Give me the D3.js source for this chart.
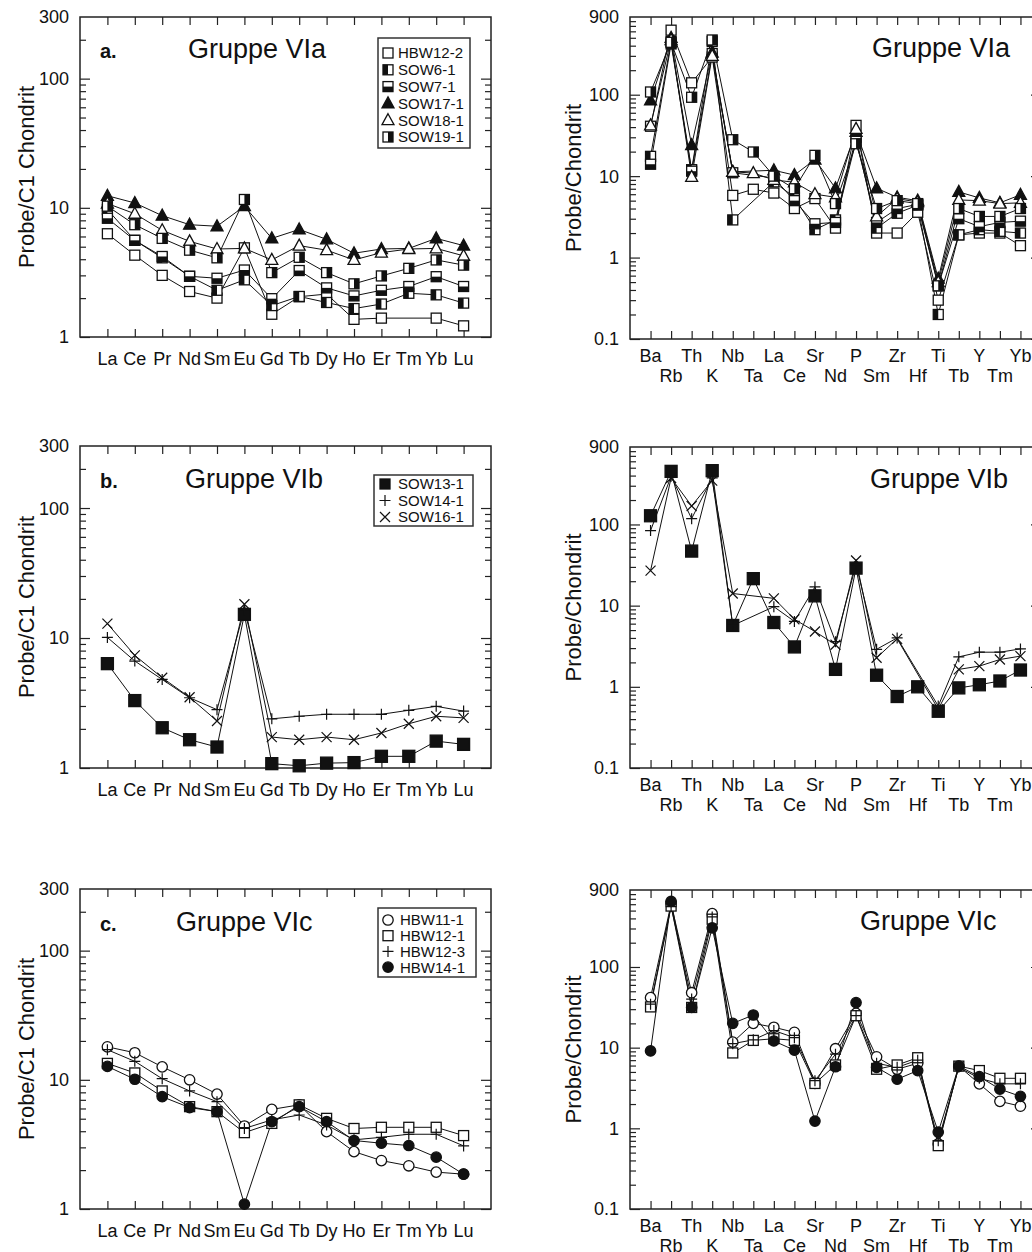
<!DOCTYPE html>
<html>
<head>
<meta charset="utf-8">
<script src="https://cdn.jsdelivr.net/npm/d3@7"></script>
<style>
  body { margin: 0; background: #fff; }
  text { font-family: Arial, "Liberation Sans", sans-serif; fill: #111; }
</style>
</head>
<body>
<svg width="1032" height="1252"></svg>
<script>
// element order on the two kinds of x axis
const reeCats = ['La', 'Ce', 'Pr', 'Nd', 'Sm', 'Eu', 'Gd', 'Tb', 'Dy', 'Ho', 'Er', 'Tm', 'Yb', 'Lu']
const spiderCats = ['Ba', 'Rb', 'Th', 'K', 'Nb', 'Ta', 'La', 'Ce', 'Sr', 'Nd', 'P', 'Sm', 'Zr', 'Hf', 'Ti', 'Tb', 'Y', 'Tm', 'Yb']

const reeTicks = [1, 10, 100, 300]
const spiderTicks = [0.1, 1, 10, 100, 900]

// Gruppe VIa - REE
const reeHBW12_2 = [6.3, 4.3, 3.0, 2.25, 2.0, 4.9, 1.5, 2.05, 2.15, 1.37, 1.4, null, 1.4, 1.22]
const reeSOW6_1 = [9.7, 5.6, 4.1, 2.95, 2.3, 2.77, 1.75, 2.06, 1.85, 1.66, 1.8, 2.18, 2.12, 1.83]
const reeSOW7_1 = [8.3, 5.6, 4.2, 2.95, 2.85, 3.3, 1.98, 3.27, 2.4, 2.08, 2.3, 2.46, 2.93, 2.46]
const reeSOW17_1 = [12.4, 10.9, 8.7, 7.4, 7.2, 10.3, 5.8, 6.8, 5.7, 4.45, 4.8, 4.85, 5.8, 5.1]
const reeSOW18_1 = [10.8, 9.0, 6.7, 5.5, 4.8, 4.85, 3.95, 5.1, 4.7, 3.95, 4.5, 4.8, 4.85, 4.25]
const reeSOW19_1 = [10.3, 7.4, 5.8, 4.7, 4.1, 11.6, 3.15, 4.14, 3.15, 2.58, 2.97, 3.4, 3.95, 3.6]

// Gruppe VIa - spider
const spHBW12_2 = [41, 620, 140, 290, 5.8, 6.9, 6.2, 4.0, 5.3, 2.3, 42, 2.0, 2.0, 3.6, 0.3, 1.9, 2.0, 2.0, 1.4]
const spSOW6_1 = [17.5, 450, 12, 450, 2.9, null, 8.5, 5.5, 2.2, 2.9, 30, 2.3, 3.5, 4.4, 0.2, 1.9, 2.2, 2.1, 2.0]
const spSOW7_1 = [14, 420, 11.5, 320, 11, null, 9.5, 5.0, 2.6, 2.7, 27, 2.7, 4.0, 4.5, 0.45, 3.0, 2.4, 2.7, 2.8]
const spSOW17_1 = [85, 500, 24, 330, 11.3, null, 11.8, 10.3, 16, 7.1, 35, 7.1, 5.5, 5.0, 0.55, 6.4, 5.4, 4.7, 5.9]
const spSOW18_1 = [42, 470, 9.8, 300, 11.3, 10.9, 9.0, 8.4, 6.0, 5.5, 38, 3.2, 5.3, 4.8, 0.5, 5.1, 5.0, 4.6, 4.7]
const spSOW19_1 = [108, 440, 93, 470, 28, 19.8, 10, 7.0, 18, 4.6, 25, 4.0, 5.0, 4.6, 0.45, 4.0, 3.2, 3.2, 4.0]

// Gruppe VIb - REE
const reeSOW13_1 = [6.35, 3.3, 2.04, 1.65, 1.45, 15.2, 1.08, 1.04, 1.09, 1.1, 1.23, 1.23, 1.61, 1.52]
const reeSOW14_1 = [10.1, 6.65, 4.8, 3.47, 2.81, 16.5, 2.39, 2.5, 2.59, 2.59, 2.59, 2.78, 2.98, 2.74]
const reeSOW16_1 = [12.9, 7.35, 4.95, 3.5, 2.3, 18.2, 1.73, 1.65, 1.73, 1.65, 1.86, 2.19, 2.5, 2.43]

// Gruppe VIb - spider
const spSOW13_1 = [128, 451, 47, 460, 5.7, 21.5, 6.2, 3.1, 13.2, 1.64, 29, 1.39, 0.76, 1.0, 0.5, 0.97, 1.06, 1.18, 1.61]
const spSOW14_1 = [84, 392, 118, 374, 5.7, null, 9.7, 6.4, 17, 3.6, 32, 2.9, 4.0, null, 0.58, 2.34, 2.67, 2.67, 2.93]
const spSOW16_1 = [27, 374, 169, 347, 14.1, null, 12.3, 6.8, 4.8, 3.3, 36, 2.28, 3.9, null, 0.53, 1.64, 1.8, 2.17, 2.39]

// Gruppe VIc - REE
const reeHBW11_1 = [18, 16.2, 12.6, 10.0, 7.75, 4.39, 5.9, 6.4, 3.97, 2.78, 2.37, 2.16, 1.93, 1.86]
const reeHBW12_1 = [13.4, 11.3, 8.2, 6.2, 5.67, 3.9, 4.6, 6.4, 5.03, 4.2, 4.29, 4.29, 4.29, 3.7]
const reeHBW12_3 = [17.1, 13.9, 10.2, 8.2, 6.77, 4.2, 4.9, 5.34, 4.47, 3.43, 3.59, 3.79, 3.79, 3.08]
const reeHBW14_1 = [12.7, 10.1, 7.4, 6.1, 5.67, 1.09, 4.74, 6.2, 4.74, 3.39, 3.23, 3.1, 2.52, 1.86]

// Gruppe VIc - spider
const spHBW11_1 = [41.7, 608, 48, 458, 11.7, 20, 17.9, 15.5, 3.6, 9.7, 26.6, 7.7, 5.4, 6.4, 0.64, 5.9, 3.56, 2.16, 1.88]
const spHBW12_1 = [32, 569, 31.5, 391, 8.6, 12.3, 12.9, 12.3, 3.6, 6.1, 24.9, 5.4, 6.1, 7.5, 0.61, 5.9, 5.2, 4.17, 4.17]
const spHBW12_3 = [34.6, 560, 40, 417, 11.2, 12.5, 16.3, 13.3, 3.9, 8.3, 24.9, 6.4, 5.7, 7.0, 0.7, 5.7, 4.17, 3.56, 3.56]
const spHBW14_1 = [9.1, 649, 31.5, 306, 20, 25.4, 12.1, 9.3, 1.23, 5.8, 36.2, 5.7, 4.06, 5.2, 0.9, 5.9, 4.37, 3.06, 2.49]

const svg = d3.select('svg')
svg.append('rect').attr('width', 1032).attr('height', 1252).attr('fill', '#fff')

const panels = [
  { kind: 'ree', x0: 80, x1: 491, y0: 17, y1: 337, letter: 'a.', title: 'Gruppe VIa', tx: 188, ty: 58,
    legend: { x: 378, y: 38, w: 92, h: 110, rowY: 53, row: 16.8, mx: 388, tx: 398 },
    series: [
      ['HBW12-2', reeHBW12_2, 'sqOpen'], ['SOW6-1', reeSOW6_1, 'sqLeft'], ['SOW7-1', reeSOW7_1, 'sqBottom'],
      ['SOW17-1', reeSOW17_1, 'triFilled'], ['SOW18-1', reeSOW18_1, 'triOpen'], ['SOW19-1', reeSOW19_1, 'sqRight']] },
  { kind: 'spider', x0: 630, x1: 1041, y0: 17, y1: 339, title: 'Gruppe VIa', tx: 872, ty: 57,
    series: [
      ['HBW12-2', spHBW12_2, 'sqOpen'], ['SOW6-1', spSOW6_1, 'sqLeft'], ['SOW7-1', spSOW7_1, 'sqBottom'],
      ['SOW17-1', spSOW17_1, 'triFilled'], ['SOW18-1', spSOW18_1, 'triOpen'], ['SOW19-1', spSOW19_1, 'sqRight']] },
  { kind: 'ree', x0: 80, x1: 491, y0: 446, y1: 768, letter: 'b.', title: 'Gruppe VIb', tx: 185, ty: 488,
    legend: { x: 374, y: 475, w: 99, h: 51, rowY: 484, row: 16.5, mx: 385, tx: 398 },
    series: [
      ['SOW13-1', reeSOW13_1, 'sqFilled'], ['SOW14-1', reeSOW14_1, 'plus'], ['SOW16-1', reeSOW16_1, 'cross']] },
  { kind: 'spider', x0: 630, x1: 1041, y0: 447, y1: 768, title: 'Gruppe VIb', tx: 870, ty: 488,
    series: [
      ['SOW13-1', spSOW13_1, 'sqFilled'], ['SOW14-1', spSOW14_1, 'plus'], ['SOW16-1', spSOW16_1, 'cross']] },
  { kind: 'ree', x0: 80, x1: 491, y0: 889, y1: 1209, letter: 'c.', title: 'Gruppe VIc', tx: 176, ty: 931,
    legend: { x: 378, y: 908, w: 98, h: 69, rowY: 920, row: 15.7, mx: 388, tx: 400 },
    series: [
      ['HBW11-1', reeHBW11_1, 'circOpen'], ['HBW12-1', reeHBW12_1, 'sqOpen'],
      ['HBW12-3', reeHBW12_3, 'plus'], ['HBW14-1', reeHBW14_1, 'circFilled']] },
  { kind: 'spider', x0: 630, x1: 1041, y0: 890, y1: 1209, title: 'Gruppe VIc', tx: 860, ty: 930,
    series: [
      ['HBW11-1', spHBW11_1, 'circOpen'], ['HBW12-1', spHBW12_1, 'sqOpen'],
      ['HBW12-3', spHBW12_3, 'plus'], ['HBW14-1', spHBW14_1, 'circFilled']] }
]

function minorTicks(lo, hi) {
  const out = []
  for (let d = lo; d < hi; d *= 10) {
    for (let k = 2; k <= 9; k++) {
      const v = +(k * d).toPrecision(3)
      if (v < hi) out.push(v)
    }
  }
  return out
}

function drawMarker(g, type, cx, cy, big) {
  const s = big ? 6 : 5
  const sw = 1.3
  if (type.startsWith('sq')) {
    g.append('rect').attr('x', cx - s).attr('y', cy - s).attr('width', 2 * s).attr('height', 2 * s)
      .attr('fill', type === 'sqFilled' ? '#111' : '#fff').attr('stroke', '#111').attr('stroke-width', sw)
    let half = null
    if (type === 'sqLeft') half = [cx - s, cy - s, s, 2 * s]
    if (type === 'sqRight') half = [cx, cy - s, s, 2 * s]
    if (type === 'sqBottom') half = [cx - s, cy, 2 * s, s]
    if (half) {
      g.append('rect').attr('x', half[0]).attr('y', half[1]).attr('width', half[2]).attr('height', half[3])
        .attr('fill', '#111')
    }
  } else if (type.startsWith('tri')) {
    const p = `M${cx},${cy - 6.5}L${cx + 6},${cy + 4.5}L${cx - 6},${cy + 4.5}Z`
    g.append('path').attr('d', p).attr('fill', type === 'triFilled' ? '#111' : '#fff')
      .attr('stroke', '#111').attr('stroke-width', sw)
  } else if (type.startsWith('circ')) {
    g.append('circle').attr('cx', cx).attr('cy', cy).attr('r', 5.2)
      .attr('fill', type === 'circFilled' ? '#111' : '#fff').attr('stroke', '#111').attr('stroke-width', sw)
  } else if (type === 'plus') {
    g.append('path').attr('d', `M${cx - 5.5},${cy}H${cx + 5.5}M${cx},${cy - 5.5}V${cy + 5.5}`)
      .attr('stroke', '#111').attr('stroke-width', 1.2).attr('fill', 'none')
  } else if (type === 'cross') {
    g.append('path').attr('d', `M${cx - 5},${cy - 5}L${cx + 5},${cy + 5}M${cx - 5},${cy + 5}L${cx + 5},${cy - 5}`)
      .attr('stroke', '#111').attr('stroke-width', 1.2).attr('fill', 'none')
  }
}

panels.forEach(p => {
  const cats = p.kind === 'ree' ? reeCats : spiderCats
  const domain = p.kind === 'ree' ? [1, 300] : [0.1, 900]
  const x = d3.scalePoint().domain(cats).range([p.x0, p.x1]).padding(1)
  const y = d3.scaleLog().domain(domain).range([p.y1, p.y0])
  const g = svg.append('g')

  const majors = p.kind === 'ree' ? [1, 10, 100] : [0.1, 1, 10, 100]
  const minors = minorTicks(domain[0], domain[1])

  const axes = [
    [d3.axisLeft(y).tickValues(majors).tickSize(-10), `translate(${p.x0},0)`],
    [d3.axisLeft(y).tickValues(minors).tickSize(-6), `translate(${p.x0},0)`],
    [d3.axisRight(y).tickValues(majors).tickSize(-10), `translate(${p.x1},0)`],
    [d3.axisRight(y).tickValues(minors).tickSize(-6), `translate(${p.x1},0)`],
    [d3.axisTop(x).tickSize(-8), `translate(0,${p.y0})`],
    [d3.axisBottom(x).tickSize(-8), `translate(0,${p.y1})`]
  ]
  axes.forEach(([axis, tr]) => {
    const a = g.append('g').attr('transform', tr).call(axis.tickFormat(''))
    a.select('.domain').remove()
    a.selectAll('line').attr('stroke', '#222').attr('stroke-width', 1.2)
  })

  g.append('rect').attr('x', p.x0).attr('y', p.y0).attr('width', p.x1 - p.x0).attr('height', p.y1 - p.y0)
    .attr('fill', 'none').attr('stroke', '#222').attr('stroke-width', 1.5)

  // y tick labels
  const labels = p.kind === 'ree' ? reeTicks : spiderTicks
  labels.forEach(v => {
    g.append('text').attr('x', p.x0 - 11).attr('y', y(v)).attr('dy', '0.36em')
      .attr('text-anchor', 'end').attr('font-size', 18).text(v)
  })

  // x tick labels
  cats.forEach((c, i) => {
    let ly = p.y1 + 28
    if (p.kind === 'spider') ly = i % 2 === 0 ? p.y1 + 23 : p.y1 + 43
    g.append('text').attr('x', x(c)).attr('y', ly).attr('text-anchor', 'middle')
      .attr('font-size', 18).text(c)
  })

  // y axis title
  const ymid = (p.y0 + p.y1) / 2
  const lx = p.kind === 'ree' ? 34 : 581
  g.append('text').attr('transform', `translate(${lx},${ymid}) rotate(-90)`)
    .attr('text-anchor', 'middle').attr('font-size', 22)
    .text(p.kind === 'ree' ? 'Probe/C1 Chondrit' : 'Probe/Chondrit')

  // panel titles
  g.append('text').attr('x', p.tx).attr('y', p.ty).attr('font-size', 27).text(p.title)
  if (p.letter) {
    g.append('text').attr('x', 100).attr('y', p.ty).attr('font-size', 20)
      .attr('font-weight', 'bold').text(p.letter)
  }

  // lines
  const line = d3.line().x(d => x(d.cat)).y(d => y(d.v))
  p.series.forEach(([name, vals]) => {
    const pts = vals.map((v, i) => ({ cat: cats[i], v })).filter(d => d.v != null)
    g.append('path').attr('d', line(pts)).attr('fill', 'none')
      .attr('stroke', '#111').attr('stroke-width', 1)
  })
  // markers
  const big = p.series[0][2] === 'sqFilled'
  p.series.forEach(([name, vals, type]) => {
    vals.forEach((v, i) => {
      if (v == null) return
      drawMarker(g, type, x(cats[i]), y(v), big)
    })
  })

  // legend
  if (p.legend) {
    const L = p.legend
    g.append('rect').attr('x', L.x).attr('y', L.y).attr('width', L.w).attr('height', L.h)
      .attr('fill', '#fff').attr('stroke', '#333').attr('stroke-width', 1.5)
    p.series.forEach(([name, vals, type], i) => {
      const cy = L.rowY + i * L.row
      drawMarker(g, type, L.mx, cy, false)
      g.append('text').attr('x', L.tx).attr('y', cy).attr('dy', '0.36em')
        .attr('font-size', 15).text(name)
    })
  }
})
</script>
</body>
</html>
